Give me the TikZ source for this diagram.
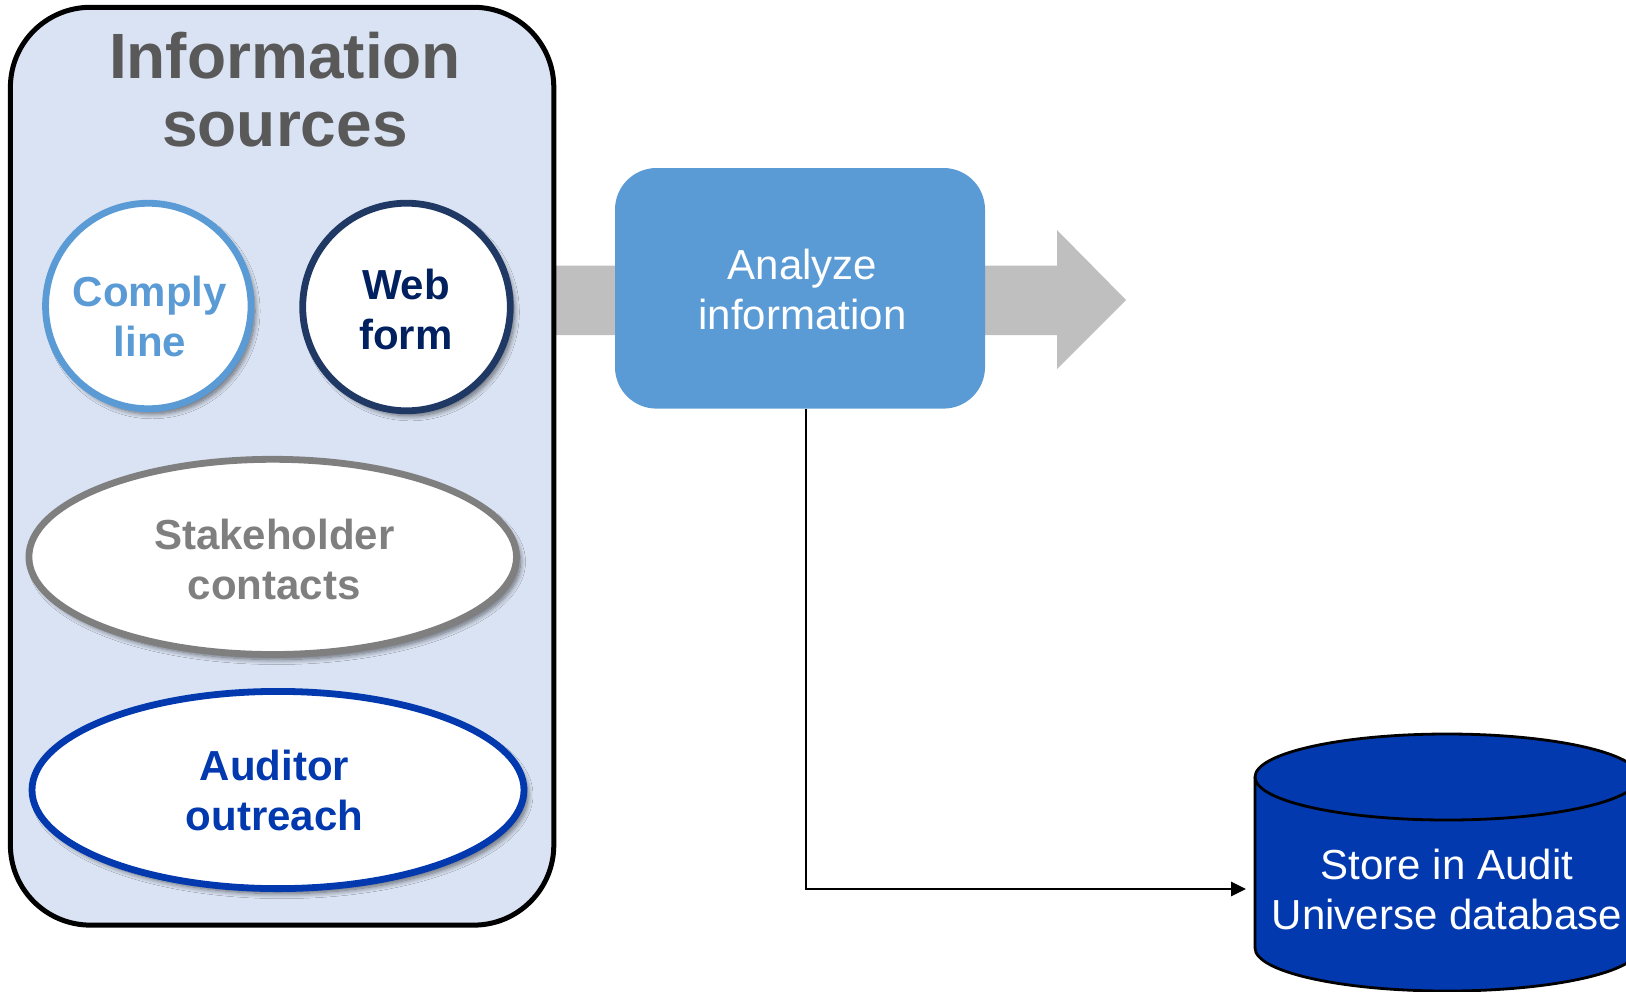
\documentclass[tikz,border=0pt]{standalone}
\usepackage{fontspec}
\setmainfont{Liberation Sans}
\usetikzlibrary{shapes.geometric,arrows.meta,shadows.blur,backgrounds}

\definecolor{panelfill}{HTML}{DAE3F3}
\definecolor{titlegray}{HTML}{595959}
\definecolor{complyblue}{HTML}{5B9BD5}
\definecolor{webnavy}{HTML}{203864}
\definecolor{webtext}{HTML}{002060}
\definecolor{stakegray}{HTML}{7F7F7F}
\definecolor{auditblue}{HTML}{0339AE}
\definecolor{flowgray}{HTML}{BFBFBF}

\begin{document}
\begin{tikzpicture}[x=0.5pt,y=-0.5pt,
  panel/.style={draw=black, line width=2.5pt, fill=panelfill,
    rounded corners=40pt, minimum width=271.7pt, minimum height=458.9pt,
    inner sep=0pt},
  paneltitle/.style={text=titlegray, align=center, inner sep=0pt,
    font=\fontsize{32pt}{34pt}\selectfont\bfseries},
  softshadow/.style={blur shadow={shadow xshift=2pt, shadow yshift=-2.5pt,
    shadow blur radius=2.5pt, shadow blur steps=10, shadow opacity=55}},
  sourcecircle/.style={circle, line width=3.4pt, fill=white, inner sep=0pt,
    softshadow},
  sourceoval/.style={ellipse, line width=3.4pt, fill=white, inner sep=0pt,
    softshadow},
  sourcetext/.style={align=center, inner sep=0pt,
    font=\fontsize{21pt}{25pt}\selectfont\bfseries},
  stepbox/.style={fill=complyblue, rounded corners=20.75pt,
    minimum width=185pt, minimum height=120.3pt, inner sep=0pt,
    text=white, align=center, font=\fontsize{21pt}{25pt}\selectfont},
  connector/.style={draw=black, line width=1.4pt,
    -{Triangle[length=7.5pt,width=7pt]}},
  dbtext/.style={text=white, align=center, inner sep=0pt,
    font=\fontsize{21pt}{25pt}\selectfont}
]
\useasboundingbox (0,0) rectangle (1626,991);

% information sources panel
\node[panel] (src) at (282.1,466.2) {};
\node[paneltitle] (srctitle) at (285,89.6) {Information\\sources};

\node[sourcecircle, draw=complyblue, minimum size=102.75pt] (comply) at (148.3,306) {};
\node[sourcetext, text=complyblue] (complytext) at (150,316.6) {Comply\\line};

\node[sourcecircle, draw=webnavy, minimum size=103.8pt] (web) at (406.5,307) {};
\node[sourcetext, text=webtext] (webtext) at (406,309) {Web\\form};

\node[sourceoval, draw=stakegray, minimum width=243.8pt, minimum height=97.6pt] (stake) at (272.7,556.9) {};
\node[sourcetext, text=stakegray] (staketext) at (274.3,559.6) {Stakeholder\\contacts};

\node[sourceoval, draw=auditblue, minimum width=246pt, minimum height=98.6pt] (audit) at (278,790) {};
\node[sourcetext, text=auditblue] (audittext) at (274.5,790.5) {Auditor\\outreach};

% analysis step
\node[stepbox] (analyze) at (800,288.3) {};
\node[text=white, align=center, inner sep=0pt,
  font=\fontsize{21pt}{25pt}\selectfont] (analyzetext) at (802.5,289.5) {Analyze\\information};

% broad flow arrow behind the step box
\begin{scope}[on background layer]
  \fill[flowgray] (550,265.5) -- (1057,265.5) -- (1057,230) -- (1126,300)
    -- (1057,369) -- (1057,335) -- (550,335) -- cycle;
\end{scope}

% database cylinder
\fill[auditblue] (1255,777) -- (1255,948)
  arc[start angle=180, end angle=0, x radius=192, y radius=43]
  -- (1639,777)
  arc[start angle=0, end angle=-180, x radius=192, y radius=43] -- cycle;
\draw[black, line width=1.4pt] (1255,777) -- (1255,948)
  arc[start angle=180, end angle=0, x radius=192, y radius=43]
  -- (1639,777);
\draw[black, line width=1.4pt] (1447,777) ellipse[x radius=192, y radius=43];
\node[dbtext] (db) at (1447,889.7) {Store in Audit\\Universe database};
\coordinate (dbin) at (1246,889);

\draw[connector] ([xshift=3pt]analyze.south) |- (dbin);
\end{tikzpicture}
\end{document}
